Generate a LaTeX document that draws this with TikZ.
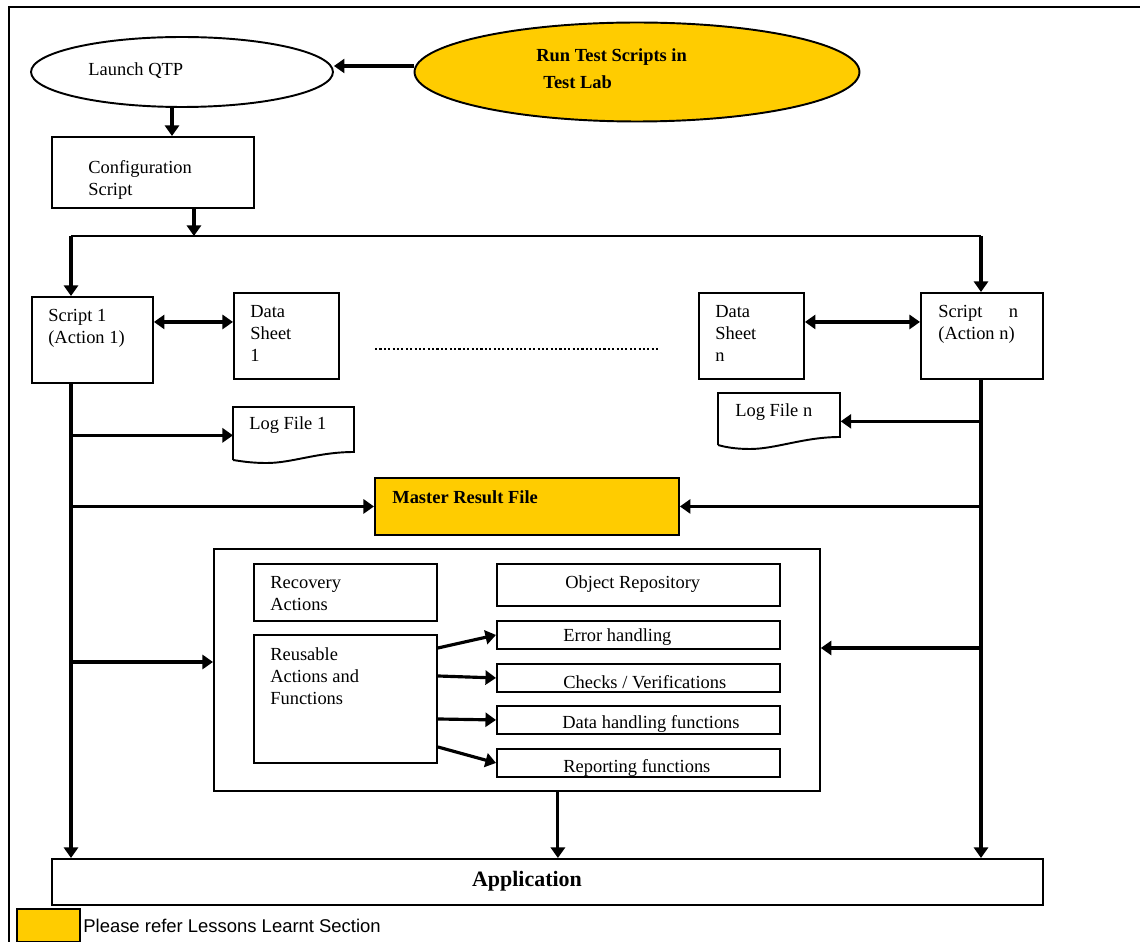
\documentclass[tikz,border=0pt]{standalone}
\usepackage{fontspec}
\setmainfont{Liberation Serif}
\setsansfont{Liberation Sans}
\usetikzlibrary{arrows.meta,shapes.geometric,positioning}
\definecolor{lessons}{HTML}{FFCC00}

\tikzset{
  box/.style={draw, line width=1.1pt, anchor=north west, inner sep=0pt},
  txt/.style={anchor=north west, inner sep=0pt, align=left, font=\fontsize{10.5}{12.5}\selectfont},
  ltxt/.style={anchor=west, inner sep=0pt, font=\fontsize{10.5}{12.5}\selectfont},
  arr/.style={-{Triangle[length=6pt,width=8pt]}, line width=1.8pt},
  darr/.style={{Triangle[length=6pt,width=8pt]}-{Triangle[length=6pt,width=8pt]}, line width=1.8pt},
}

\begin{document}
\begin{tikzpicture}[x=0.02cm, y=-0.02cm]
				\useasboundingbox (0,0) rectangle (1140,942);
				\draw[line width=0.9pt] (9,942) -- (9,7) -- (1140,7);

				\node[draw, ellipse, line width=1.1pt, inner sep=0pt, minimum width=6.04cm, minimum height=1.4cm] (launch) at (182,72) {};
				\node[ltxt] (launch-t) at (88,71) {Launch QTP};
				\node[draw, ellipse, line width=1.1pt, fill=lessons, inner sep=0pt, minimum width=8.9cm, minimum height=1.98cm] (run) at (637,72) {};
				\node[txt, font=\bfseries\fontsize{10.5}{15.3}\selectfont] (run-t) at (536,48) {Run Test Scripts in\\\hspace{4pt}Test Lab};
				\node[box, minimum width=4.04cm, minimum height=1.42cm] (config) at (51,136) {};
				\node[txt] (config-t) at (88,160) {Configuration\\Script};

				\node[box, minimum width=2.42cm, minimum height=1.72cm] (s1) at (31,296) {};
				\node[txt] (s1-t) at (48,309) {Script 1\\(Action 1)};
				\node[box, minimum width=2.1cm, minimum height=1.72cm] (ds1) at (233,292) {};
				\node[txt] (ds1-t) at (250,305) {Data\\Sheet\\1};
				\node[box, minimum width=2.1cm, minimum height=1.72cm] (dsn) at (698,292) {};
				\node[txt] (dsn-t) at (715,305) {Data\\Sheet\\n};
				\node[box, minimum width=2.44cm, minimum height=1.72cm] (sn) at (920,292) {};
				\node[txt] (sn-t) at (938,305) {Script\hspace{15pt}n\\(Action n)};

				\node[anchor=north west, inner sep=0pt, minimum width=2.42cm, minimum height=1.12cm] (lf1) at (233,407) {};
				\draw[line width=1.1pt] (233,460) -- (233,407) -- (354,407) -- (354,452) .. controls (318,452) and (292,463) .. (267,463) .. controls (250,463) and (240,461) .. (233,460);
				\node[ltxt] (lf1-t) at (249,425) {Log File 1};
				\node[anchor=north west, inner sep=0pt, minimum width=2.44cm, minimum height=1.12cm] (lfn) at (718,393) {};
				\draw[line width=1.1pt] (718,445) -- (718,393) -- (840,393) -- (840,437) .. controls (804,437) and (776,449) .. (750,449) .. controls (735,449) and (725,447) .. (718,445);
				\node[ltxt] (lfn-t) at (735,412) {Log File n};

				\node[box, fill=lessons, minimum width=6.08cm, minimum height=1.14cm] (master) at (374,477) {};
				\node[ltxt, font=\bfseries\fontsize{10.5}{12.5}\selectfont] (master-t) at (392,497) {Master Result File};

				\node[box, minimum width=12.12cm, minimum height=4.84cm] (inner) at (213,548) {};
				\node[box, minimum width=3.66cm, minimum height=1.14cm] (rec) at (253,563) {};
				\node[txt] (rec-t) at (270,576) {Recovery\\Actions};
				\node[box, minimum width=3.66cm, minimum height=2.56cm] (rf) at (253,634) {};
				\node[txt] (rf-t) at (270,647) {Reusable\\Actions and\\Functions};
				\node[box, minimum width=5.66cm, minimum height=0.84cm] (obj) at (496,563) {};
				\node[ltxt] (obj-t) at (565,584) {Object Repository};
				\node[box, minimum width=5.66cm, minimum height=0.56cm] (err) at (496,620) {};
				\node[ltxt] (err-t) at (563,637) {Error handling};
				\node[box, minimum width=5.66cm, minimum height=0.56cm] (chk) at (496,663) {};
				\node[ltxt] (chk-t) at (563,682) {Checks / Verifications};
				\node[box, minimum width=5.66cm, minimum height=0.56cm] (dat) at (496,705) {};
				\node[ltxt] (dat-t) at (562,724) {Data handling functions};
				\node[box, minimum width=5.66cm, minimum height=0.56cm] (rep) at (496,748) {};
				\node[ltxt] (rep-t) at (563,768) {Reporting functions};

				\node[box, minimum width=19.82cm, minimum height=0.92cm] (app) at (51,858) {};
				\node[font=\bfseries\fontsize{12.5}{14}\selectfont, inner sep=0pt] (app-t) at (527,881) {Application};

				\node[box, fill=lessons, minimum width=1.26cm, minimum height=0.66cm] (key) at (16,908) {};
				\node[ltxt, font=\sffamily\fontsize{10.5}{12.5}\selectfont] (key-t) at (83,926) {Please refer Lessons Learnt Section};

				\coordinate (busl) at (71,236);
				\coordinate (busr) at (981,236);
				\coordinate (dotl) at (375,349);
				\coordinate (dotr) at (660,349);

				\draw[arr] ([yshift=0.12cm]run.west) -- ([yshift=0.12cm]run.west -| launch.east);
				\draw[arr] ([xshift=-0.2cm]launch.south) -- ([xshift=-0.2cm]launch.south |- config.north);
				\draw[arr] ([xshift=0.82cm]config.south) -- ([xshift=0.82cm]config.south |- busl);
				\draw[line width=1.2pt] (busl) -- (busr);
				\draw[arr] (busl) -- (busl |- s1.north);
				\draw[arr] (busr) -- (busr |- sn.north);
				\draw[darr] ([yshift=0.36cm]s1.east) -- ([yshift=0.36cm]s1.east -| ds1.west);
				\draw[darr] ([yshift=0.28cm]dsn.east) -- ([yshift=0.28cm]dsn.east -| sn.west);
				\draw[line width=1.6pt, dash pattern=on 1.2pt off 1.3pt] (dotl) -- (dotr);

				\draw[arr] (busl |- s1.south) -- (busl |- app.north);
				\draw[arr] (busl |- lf1.west) -- (lf1.west);
				\draw[arr] (busl |- master.west) -- (master.west);
				\draw[arr] (busl |- 0,662) -- (inner.west |- 0,662);
				\draw[arr] (busr |- sn.south) -- (busr |- app.north);
				\draw[arr] (busr |- lfn.east) -- (lfn.east);
				\draw[arr] (busr |- master.east) -- (master.east);
				\draw[arr] (busr |- 0,648) -- (inner.east |- 0,648);
				\draw[arr] ([xshift=0.82cm]inner.south) -- ([xshift=0.82cm]inner.south |- app.north);

				\draw[arr] ([yshift=-0.28cm]rf.north east) -- (err.west);
				\draw[arr] ([yshift=-0.84cm]rf.north east) -- (chk.west);
				\draw[arr] ([yshift=-1.7cm]rf.north east) -- (dat.west);
				\draw[arr] ([yshift=-2.26cm]rf.north east) -- (rep.west);
			\end{tikzpicture}
\end{document}
